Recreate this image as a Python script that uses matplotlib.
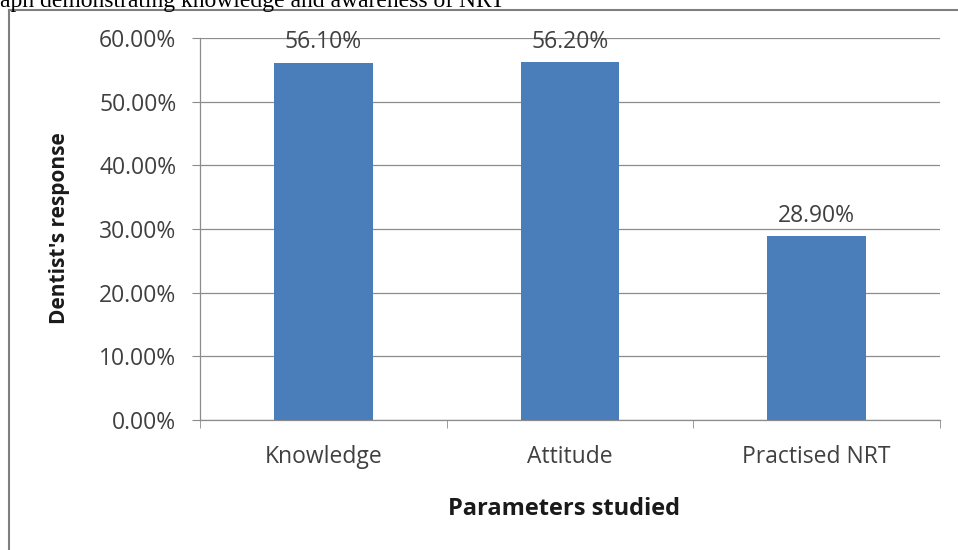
import matplotlib.pyplot as plt
from matplotlib.ticker import FuncFormatter, FixedLocator
from matplotlib.lines import Line2D

# Data
categories = ['Knowledge', 'Attitude', 'Practised NRT']
responses = [0.561, 0.562, 0.289]
yticks = [0.0, 0.1, 0.2, 0.3, 0.4, 0.5, 0.6]

W, H = 958, 550
fig = plt.figure(figsize=(W / 100, H / 100), dpi=100)
fig.patch.set_facecolor('white')

# plot area in pixels: left 200, right 940, top 38, bottom 420
ax = fig.add_axes([200 / W, 1 - 420 / H, 740 / W, 382 / H])

x = list(range(len(categories)))
ax.bar(x, responses, width=0.4, color='#4a7ebb', zorder=3)
ax.set_xlim(-0.5, len(categories) - 0.5)
ax.set_ylim(0, 0.6)

ax.set_yticks(yticks)
ax.yaxis.set_major_formatter(FuncFormatter(lambda v, p: f'{v * 100:.2f}%'))
ax.grid(axis='y', color='#8c8c8c', linewidth=0.9, zorder=0)

ax.set_xticks(x)
ax.set_xticklabels(categories)
ax.xaxis.set_minor_locator(FixedLocator([i - 0.5 for i in range(len(categories) + 1)]))
ax.tick_params(axis='x', which='major', length=0, pad=18)
ax.tick_params(axis='x', which='minor', length=6, color='#8c8c8c', direction='out')
ax.tick_params(axis='y', length=6, color='#8c8c8c', pad=11)
for lbl in ax.get_xticklabels() + ax.get_yticklabels():
    lbl.set_fontfamily('Open Sans')
    lbl.set_fontsize(16.5)
    lbl.set_color('#404040')

for s in ['top', 'right']:
    ax.spines[s].set_visible(False)
for s in ['left', 'bottom']:
    ax.spines[s].set_color('#8c8c8c')
    ax.spines[s].set_linewidth(0.9)

for xi, v in zip(x, responses):
    ax.annotate(f'{v * 100:.2f}%', (xi, v), xytext=(0, 6), textcoords='offset points',
                ha='center', va='bottom', fontsize=16.5, family='Open Sans', color='#404040')

fig.text(60 / W, 1 - 228 / H, "Dentist's response", rotation=90, ha='center', va='center',
         fontsize=15, fontweight='bold', family='Open Sans', color='#1a1a1a')
fig.text(564 / W, 1 - 509 / H, 'Parameters studied', ha='center', va='center',
         fontsize=17, fontweight='bold', family='Open Sans', color='#1a1a1a')

# caption line cut at top of the image
fig.text(-25 / W, 1 - 7 / H, 'Graph demonstrating knowledge and awareness of NRT',
         ha='left', va='baseline', fontsize=17, family='Liberation Serif', color='black')

# outer frame of the pasted chart
fig.add_artist(Line2D([9 / W, 1], [1 - 10 / H, 1 - 10 / H], color='#7f7f7f', linewidth=1.5))
fig.add_artist(Line2D([9 / W, 9 / W], [0, 1 - 10 / H], color='#7f7f7f', linewidth=1.5))

fig.savefig('out.png', dpi=100)
